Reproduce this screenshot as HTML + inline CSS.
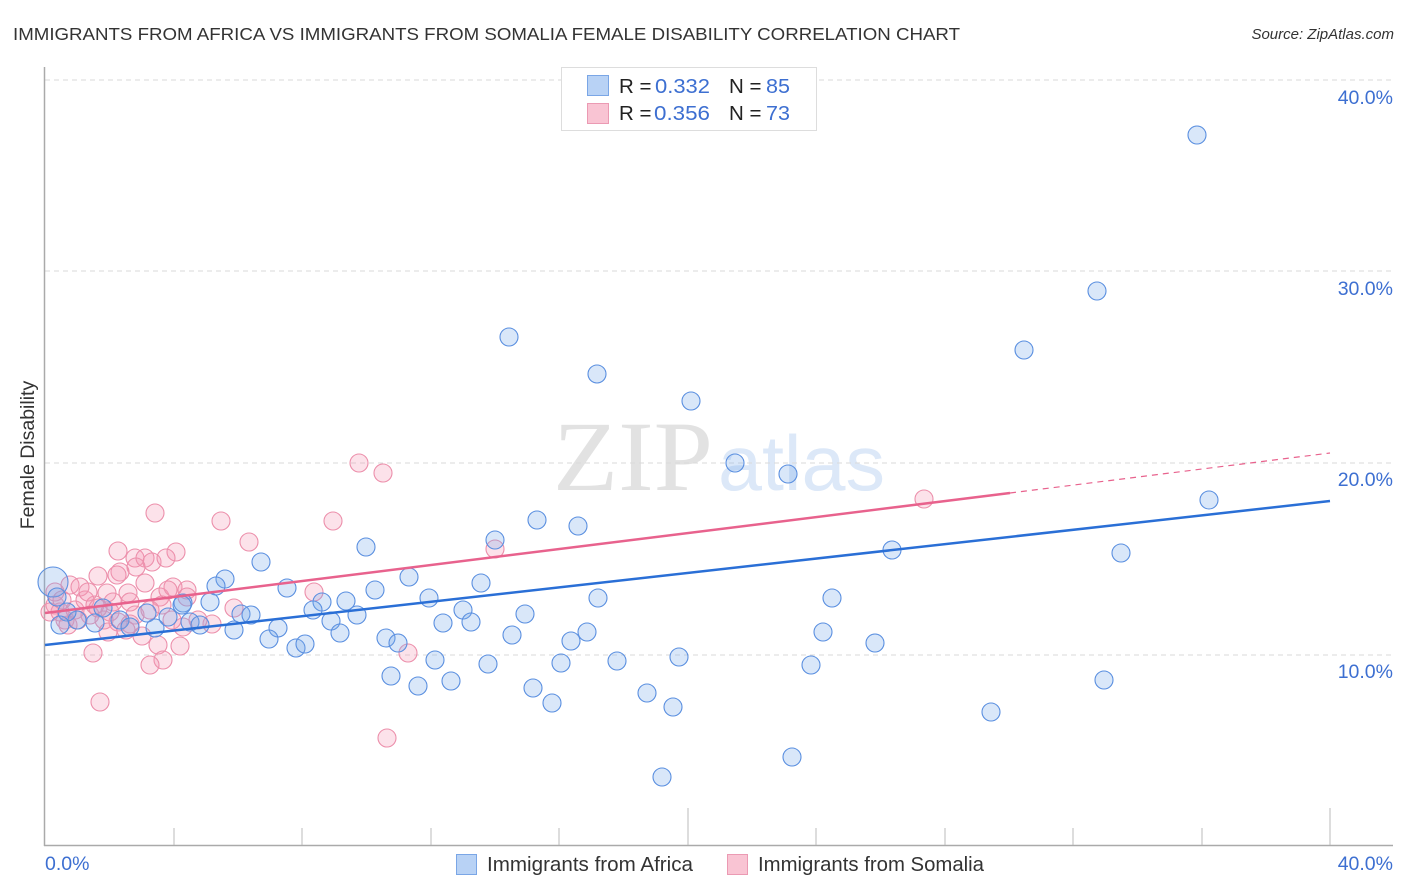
<!DOCTYPE html>
<html><head><meta charset="utf-8"><style>
html,body{margin:0;padding:0;background:#fff;}
svg{display:block;font-family:"Liberation Sans",sans-serif;}
</style></head><body>
<svg width="1406" height="892" viewBox="0 0 1406 892" xmlns="http://www.w3.org/2000/svg">
<text x="13" y="40" font-size="17.5" fill="#333" textLength="947" lengthAdjust="spacingAndGlyphs">IMMIGRANTS FROM AFRICA VS IMMIGRANTS FROM SOMALIA FEMALE DISABILITY CORRELATION CHART</text>
<text x="1394" y="39" font-size="15" fill="#333" font-style="italic" text-anchor="end">Source: ZipAtlas.com</text>

<!-- watermark -->
<text x="553" y="490" font-family="Liberation Serif,serif" font-size="100" fill="#e2e2e2" textLength="160" lengthAdjust="spacingAndGlyphs">ZIP</text>
<text x="718" y="490" font-size="78" fill="#dce8f8" textLength="167" lengthAdjust="spacingAndGlyphs">atlas</text>

<!-- gridlines -->
<g stroke="#dadada" stroke-width="1" stroke-dasharray="5,4">
<line x1="45" y1="80" x2="1393" y2="80"/>
<line x1="45" y1="271" x2="1393" y2="271"/>
<line x1="45" y1="463" x2="1393" y2="463"/>
<line x1="45" y1="655" x2="1393" y2="655"/>
</g>
<!-- axes -->
<line x1="44.5" y1="67" x2="44.5" y2="846" stroke="#aaa" stroke-width="1.5"/>
<line x1="44" y1="845.5" x2="1393" y2="845.5" stroke="#aaa" stroke-width="1.5"/>
<g stroke="#bbb" stroke-width="1">
<line x1="174" y1="828" x2="174" y2="845"/>
<line x1="302" y1="828" x2="302" y2="845"/>
<line x1="431" y1="828" x2="431" y2="845"/>
<line x1="559" y1="828" x2="559" y2="845"/>
<line x1="688" y1="808" x2="688" y2="845"/>
<line x1="816" y1="828" x2="816" y2="845"/>
<line x1="945" y1="828" x2="945" y2="845"/>
<line x1="1073" y1="828" x2="1073" y2="845"/>
<line x1="1202" y1="828" x2="1202" y2="845"/>
<line x1="1330" y1="808" x2="1330" y2="845"/>
</g>

<!-- y labels -->
<g font-size="19.5" fill="#3d6fd1" text-anchor="end">
<text x="1393" y="104">40.0%</text>
<text x="1393" y="295">30.0%</text>
<text x="1393" y="486">20.0%</text>
<text x="1393" y="678">10.0%</text>
</g>
<text x="45" y="870" font-size="19.5" fill="#3d6fd1">0.0%</text>
<text x="1393" y="870" font-size="19.5" fill="#3d6fd1" text-anchor="end">40.0%</text>
<text transform="translate(34,455) rotate(-90)" font-size="19.5" fill="#333" text-anchor="middle">Female Disability</text>

<!-- pink points -->
<g fill="rgba(244,150,178,0.28)" stroke="#ec8fab" stroke-width="1.1">
<circle cx="359" cy="463" r="9"/><circle cx="383" cy="473" r="9"/><circle cx="924" cy="499" r="9"/>
<circle cx="155" cy="513" r="9"/><circle cx="221" cy="521" r="9"/><circle cx="333" cy="521" r="9"/>
<circle cx="249" cy="542" r="9"/><circle cx="495" cy="549" r="9"/><circle cx="118" cy="551" r="9"/>
<circle cx="176" cy="552" r="9"/><circle cx="135" cy="558" r="9"/><circle cx="145" cy="558" r="9"/>
<circle cx="152" cy="562" r="9"/><circle cx="166" cy="558" r="9"/><circle cx="136" cy="567" r="9"/>
<circle cx="120" cy="572" r="9"/><circle cx="117" cy="575" r="9"/><circle cx="98" cy="576" r="9"/>
<circle cx="70" cy="585" r="9"/><circle cx="80" cy="587" r="9"/><circle cx="107" cy="593" r="9"/>
<circle cx="128" cy="593" r="9"/><circle cx="160" cy="597" r="9"/><circle cx="173" cy="587" r="9"/>
<circle cx="187" cy="590" r="9"/><circle cx="187" cy="597" r="9"/><circle cx="113" cy="602" r="9"/>
<circle cx="130" cy="602" r="9"/><circle cx="162" cy="605" r="9"/><circle cx="314" cy="592" r="9"/>
<circle cx="234" cy="608" r="9"/><circle cx="212" cy="624" r="9"/><circle cx="198" cy="620" r="9"/>
<circle cx="183" cy="627" r="9"/><circle cx="180" cy="646" r="9"/><circle cx="158" cy="645" r="9"/>
<circle cx="142" cy="636" r="9"/><circle cx="93" cy="653" r="9"/><circle cx="408" cy="653" r="9"/>
<circle cx="163" cy="660" r="9"/><circle cx="150" cy="665" r="9"/><circle cx="100" cy="702" r="9"/>
<circle cx="387" cy="738" r="9"/><circle cx="55" cy="605" r="9"/><circle cx="60" cy="612" r="9"/>
<circle cx="65" cy="620" r="9"/><circle cx="75" cy="610" r="9"/><circle cx="85" cy="600" r="9"/>
<circle cx="90" cy="615" r="9"/><circle cx="50" cy="612" r="9"/><circle cx="55" cy="592" r="9"/>
<circle cx="68" cy="625" r="9"/><circle cx="78" cy="620" r="9"/><circle cx="95" cy="605" r="9"/>
<circle cx="110" cy="612" r="9"/><circle cx="118" cy="622" r="9"/><circle cx="135" cy="615" r="9"/>
<circle cx="150" cy="610" r="9"/><circle cx="168" cy="590" r="9"/><circle cx="145" cy="583" r="9"/>
<circle cx="98" cy="608" r="9"/><circle cx="130" cy="624" r="9"/><circle cx="108" cy="632" r="9"/>
<circle cx="126" cy="630" r="9"/><circle cx="172" cy="620" r="9"/><circle cx="62" cy="600" r="9"/>
<circle cx="88" cy="592" r="9"/><circle cx="104" cy="620" r="9"/>
</g>

<!-- blue points -->
<g fill="rgba(120,170,235,0.28)" stroke="#5a8fe0" stroke-width="1.1">
<circle cx="53" cy="582" r="15"/>
<circle cx="1197" cy="135" r="9"/><circle cx="1097" cy="291" r="9"/><circle cx="1024" cy="350" r="9"/>
<circle cx="509" cy="337" r="9"/><circle cx="597" cy="374" r="9"/><circle cx="691" cy="401" r="9"/>
<circle cx="735" cy="463" r="9"/><circle cx="788" cy="474" r="9"/><circle cx="1209" cy="500" r="9"/>
<circle cx="537" cy="520" r="9"/><circle cx="578" cy="526" r="9"/><circle cx="495" cy="540" r="9"/>
<circle cx="366" cy="547" r="9"/><circle cx="892" cy="550" r="9"/><circle cx="1121" cy="553" r="9"/>
<circle cx="261" cy="562" r="9"/><circle cx="225" cy="579" r="9"/><circle cx="216" cy="586" r="9"/>
<circle cx="409" cy="577" r="9"/><circle cx="287" cy="588" r="9"/><circle cx="481" cy="583" r="9"/>
<circle cx="375" cy="590" r="9"/><circle cx="210" cy="602" r="9"/><circle cx="183" cy="603" r="9"/>
<circle cx="346" cy="601" r="9"/><circle cx="429" cy="598" r="9"/><circle cx="598" cy="598" r="9"/>
<circle cx="832" cy="598" r="9"/><circle cx="322" cy="602" r="9"/><circle cx="313" cy="610" r="9"/>
<circle cx="463" cy="610" r="9"/><circle cx="147" cy="613" r="9"/><circle cx="241" cy="614" r="9"/>
<circle cx="251" cy="615" r="9"/><circle cx="525" cy="614" r="9"/><circle cx="357" cy="615" r="9"/>
<circle cx="443" cy="623" r="9"/><circle cx="471" cy="622" r="9"/><circle cx="331" cy="621" r="9"/>
<circle cx="190" cy="622" r="9"/><circle cx="200" cy="625" r="9"/><circle cx="120" cy="620" r="9"/>
<circle cx="103" cy="608" r="9"/><circle cx="77" cy="620" r="9"/><circle cx="95" cy="623" r="9"/>
<circle cx="234" cy="630" r="9"/><circle cx="278" cy="628" r="9"/><circle cx="340" cy="633" r="9"/>
<circle cx="512" cy="635" r="9"/><circle cx="587" cy="632" r="9"/><circle cx="571" cy="641" r="9"/>
<circle cx="823" cy="632" r="9"/><circle cx="386" cy="638" r="9"/><circle cx="398" cy="643" r="9"/>
<circle cx="269" cy="639" r="9"/><circle cx="296" cy="648" r="9"/><circle cx="305" cy="644" r="9"/>
<circle cx="875" cy="643" r="9"/><circle cx="435" cy="660" r="9"/><circle cx="617" cy="661" r="9"/>
<circle cx="679" cy="657" r="9"/><circle cx="488" cy="664" r="9"/><circle cx="561" cy="663" r="9"/>
<circle cx="811" cy="665" r="9"/><circle cx="391" cy="676" r="9"/><circle cx="451" cy="681" r="9"/>
<circle cx="418" cy="686" r="9"/><circle cx="533" cy="688" r="9"/><circle cx="647" cy="693" r="9"/>
<circle cx="1104" cy="680" r="9"/><circle cx="552" cy="703" r="9"/><circle cx="673" cy="707" r="9"/>
<circle cx="991" cy="712" r="9"/><circle cx="792" cy="757" r="9"/><circle cx="662" cy="777" r="9"/>
<circle cx="57" cy="597" r="9"/><circle cx="67" cy="612" r="9"/><circle cx="168" cy="617" r="9"/>
<circle cx="130" cy="627" r="9"/><circle cx="155" cy="628" r="9"/><circle cx="182" cy="605" r="9"/>
<circle cx="60" cy="625" r="9"/>
</g>

<!-- regression lines -->
<line x1="45" y1="645" x2="1330" y2="501" stroke="#2a6fd6" stroke-width="2.5"/>
<line x1="45" y1="613" x2="1010" y2="493" stroke="#e8628d" stroke-width="2.5"/>
<line x1="1010" y1="493" x2="1330" y2="453" stroke="#e8628d" stroke-width="1.2" stroke-dasharray="6,5"/>

<!-- legend -->
<rect x="561.5" y="67.5" width="255" height="63" fill="#fff" stroke="#ddd" stroke-width="1"/>
<rect x="587.5" y="75.5" width="21" height="20" fill="#b8d2f5" stroke="#7aa6e6" stroke-width="1"/>
<rect x="587.5" y="103.5" width="21" height="20" fill="#f9c4d3" stroke="#eb9ab3" stroke-width="1"/>
<g font-size="20.5">
<text x="619" y="93" fill="#222">R =</text><text x="655" y="93" fill="#3d6fd1" textLength="55" lengthAdjust="spacingAndGlyphs">0.332</text>
<text x="729" y="93" fill="#222">N =</text><text x="766" y="93" fill="#3d6fd1" textLength="24" lengthAdjust="spacingAndGlyphs">85</text>
<text x="619" y="120" fill="#222">R =</text><text x="654" y="120" fill="#3d6fd1" textLength="56" lengthAdjust="spacingAndGlyphs">0.356</text>
<text x="729" y="120" fill="#222">N =</text><text x="766" y="120" fill="#3d6fd1" textLength="24" lengthAdjust="spacingAndGlyphs">73</text>
</g>

<!-- bottom legend -->
<rect x="456.5" y="854.5" width="20" height="20" fill="#b8d2f5" stroke="#7aa6e6" stroke-width="1"/>
<text x="487" y="871" font-size="20" fill="#333" textLength="206" lengthAdjust="spacingAndGlyphs">Immigrants from Africa</text>
<rect x="727.5" y="854.5" width="20" height="20" fill="#f9c4d3" stroke="#eb9ab3" stroke-width="1"/>
<text x="758" y="871" font-size="20" fill="#333" textLength="226" lengthAdjust="spacingAndGlyphs">Immigrants from Somalia</text>
</svg>
</body></html>
